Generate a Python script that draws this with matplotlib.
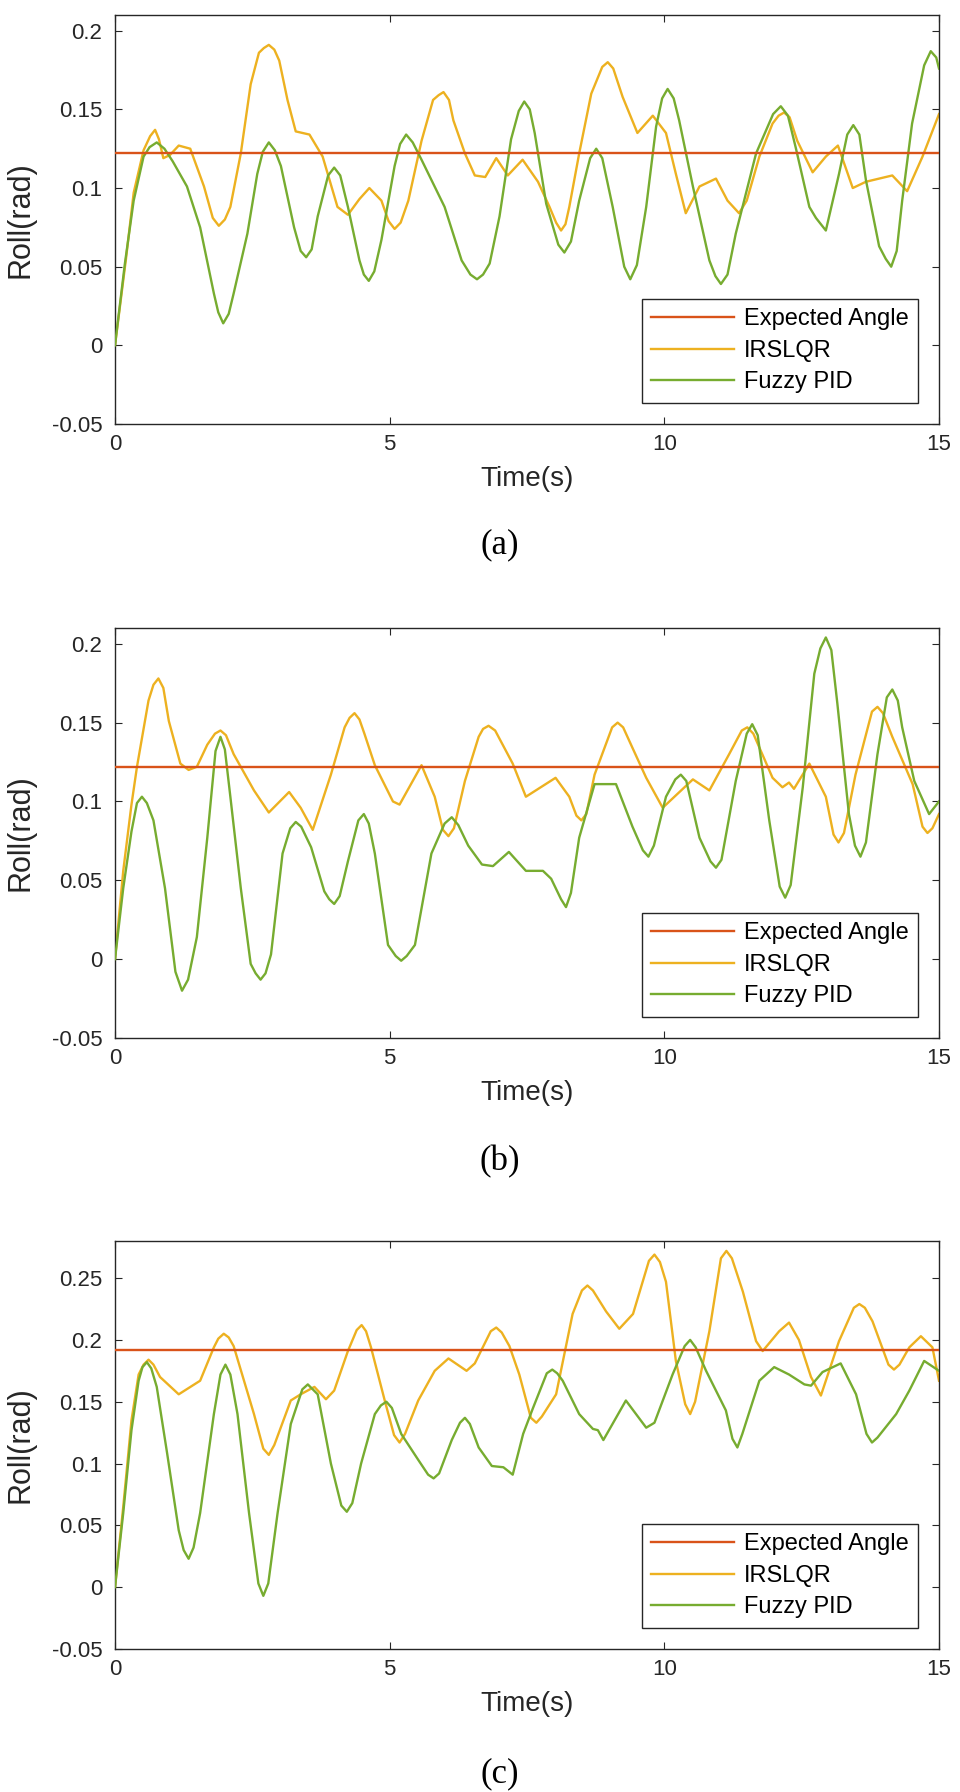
import matplotlib.pyplot as plt

plt.rcParams['font.family'] = ['Liberation Sans', 'DejaVu Sans']

# ---- data ----
expected = [0.122, 0.122, 0.192]
captions = ['(a)', '(b)', '(c)']
x_ticks = [0, 5, 10, 15]
y_ticks_ab = [-0.05, 0, 0.05, 0.1, 0.15, 0.2]
y_labels_ab = ['-0.05', '0', '0.05', '0.1', '0.15', '0.2']
y_ticks_c = [-0.05, 0, 0.05, 0.1, 0.15, 0.2, 0.25]
y_labels_c = ['-0.05', '0', '0.05', '0.1', '0.15', '0.2', '0.25']

# (a)
t_a_irs = [0, 0.2, 0.34, 0.52, 0.64, 0.73, 0.80, 0.88, 1.0, 1.16, 1.37, 1.62, 1.78, 1.89, 2.00,
           2.10, 2.29, 2.47, 2.62, 2.71, 2.80, 2.90, 2.99, 3.14, 3.29, 3.54, 3.78, 4.05, 4.24,
           4.45, 4.63, 4.85, 4.98, 5.09, 5.20, 5.34, 5.58, 5.79, 5.89, 5.98, 6.08, 6.16, 6.37,
           6.55, 6.74, 6.94, 7.15, 7.42, 7.70, 7.91, 8.03, 8.12, 8.20, 8.27, 8.45, 8.67, 8.87,
           8.97, 9.07, 9.24, 9.51, 9.79, 10.03, 10.21, 10.39, 10.64, 10.94, 11.15, 11.36,
           11.50, 11.73, 11.97, 12.08, 12.18, 12.28, 12.42, 12.70, 12.94, 13.16, 13.43, 13.67,
           14.15, 14.42, 14.70, 15.0]
v_a_irs = [0, 0.055, 0.097, 0.124, 0.133, 0.137, 0.131, 0.119, 0.121, 0.127, 0.125, 0.101,
           0.081, 0.076, 0.080, 0.088, 0.122, 0.166, 0.186, 0.189, 0.191, 0.188, 0.181, 0.156,
           0.136, 0.134, 0.120, 0.088, 0.083, 0.093, 0.100, 0.092, 0.079, 0.074, 0.078, 0.092,
           0.130, 0.156, 0.159, 0.161, 0.156, 0.143, 0.122, 0.108, 0.107, 0.119, 0.108, 0.118,
           0.104, 0.088, 0.078, 0.073, 0.077, 0.088, 0.122, 0.160, 0.177, 0.180, 0.176, 0.158,
           0.135, 0.146, 0.135, 0.109, 0.084, 0.101, 0.106, 0.092, 0.084, 0.092, 0.120, 0.141,
           0.146, 0.148, 0.145, 0.130, 0.110, 0.120, 0.127, 0.100, 0.104, 0.108, 0.098, 0.120,
           0.147]
t_a_fuz = [0, 0.18, 0.34, 0.52, 0.63, 0.76, 0.90, 1.05, 1.31, 1.55, 1.80, 1.88, 1.97, 2.07,
           2.16, 2.41, 2.59, 2.69, 2.80, 2.91, 3.02, 3.26, 3.38, 3.48, 3.58, 3.69, 3.88, 3.99,
           4.10, 4.24, 4.45, 4.53, 4.62, 4.72, 4.85, 5.09, 5.19, 5.30, 5.42, 5.58, 6.0, 6.31,
           6.47, 6.59, 6.70, 6.82, 7.0, 7.21, 7.35, 7.45, 7.55, 7.64, 7.85, 8.07, 8.18, 8.30,
           8.45, 8.65, 8.76, 8.87, 9.06, 9.27, 9.38, 9.50, 9.67, 9.85, 9.96, 10.06, 10.17,
           10.27, 10.52, 10.82, 10.93, 11.03, 11.15, 11.30, 11.67, 11.98, 12.12, 12.25, 12.39,
           12.64, 12.76, 12.94, 13.18, 13.33, 13.44, 13.55, 13.67, 13.91, 14.03, 14.13, 14.23,
           14.33, 14.51, 14.73, 14.85, 14.95, 15.0]
v_a_fuz = [0, 0.052, 0.092, 0.120, 0.126, 0.129, 0.125, 0.117, 0.101, 0.075, 0.033, 0.021,
           0.014, 0.020, 0.033, 0.071, 0.109, 0.123, 0.129, 0.124, 0.114, 0.075, 0.060, 0.056,
           0.061, 0.082, 0.108, 0.113, 0.108, 0.088, 0.054, 0.045, 0.041, 0.047, 0.067, 0.114,
           0.128, 0.134, 0.129, 0.118, 0.088, 0.054, 0.045, 0.042, 0.045, 0.052, 0.082, 0.131,
           0.149, 0.155, 0.150, 0.135, 0.090, 0.064, 0.059, 0.066, 0.092, 0.119, 0.125, 0.119,
           0.088, 0.050, 0.042, 0.051, 0.088, 0.139, 0.157, 0.163, 0.157, 0.143, 0.101, 0.054,
           0.044, 0.039, 0.045, 0.071, 0.122, 0.147, 0.152, 0.146, 0.126, 0.088, 0.081, 0.073,
           0.109, 0.134, 0.140, 0.134, 0.105, 0.063, 0.055, 0.050, 0.060, 0.092, 0.141, 0.178,
           0.187, 0.183, 0.176]

# (b)
t_b_irs = [0, 0.15, 0.30, 0.40, 0.61, 0.70, 0.79, 0.88, 0.98, 1.19, 1.34, 1.49, 1.68, 1.82,
           1.92, 2.02, 2.16, 2.53, 2.80, 3.17, 3.38, 3.60, 3.93, 4.18, 4.27, 4.36, 4.45, 4.54,
           4.73, 5.06, 5.18, 5.58, 5.82, 5.97, 6.07, 6.17, 6.37, 6.62, 6.70, 6.80, 6.92, 7.24,
           7.48, 8.02, 8.27, 8.40, 8.49, 8.58, 8.73, 9.05, 9.15, 9.25, 9.42, 9.67, 9.97, 10.52,
           10.82, 11.18, 11.41, 11.51, 11.62, 11.97, 12.15, 12.27, 12.36, 12.64, 12.94, 13.08,
           13.17, 13.27, 13.48, 13.78, 13.88, 13.98, 14.15, 14.52, 14.70, 14.79, 14.88, 15.0]
v_b_irs = [0, 0.056, 0.098, 0.122, 0.164, 0.174, 0.178, 0.172, 0.151, 0.124, 0.120, 0.122,
           0.136, 0.143, 0.145, 0.142, 0.130, 0.107, 0.093, 0.106, 0.096, 0.082, 0.117, 0.147,
           0.153, 0.156, 0.152, 0.143, 0.123, 0.100, 0.098, 0.123, 0.103, 0.082, 0.078, 0.083,
           0.113, 0.141, 0.146, 0.148, 0.145, 0.124, 0.103, 0.115, 0.103, 0.091, 0.088, 0.092,
           0.117, 0.147, 0.150, 0.147, 0.134, 0.115, 0.096, 0.114, 0.107, 0.130, 0.145, 0.147,
           0.143, 0.115, 0.109, 0.112, 0.108, 0.124, 0.103, 0.079, 0.074, 0.080, 0.117, 0.157,
           0.160, 0.156, 0.141, 0.111, 0.084, 0.080, 0.083, 0.092]
t_b_fuz = [0, 0.15, 0.30, 0.40, 0.49, 0.58, 0.70, 0.91, 1.10, 1.22, 1.33, 1.49, 1.68, 1.83,
           1.92, 2.00, 2.10, 2.29, 2.47, 2.56, 2.65, 2.74, 2.84, 3.05, 3.19, 3.29, 3.39, 3.57,
           3.81, 3.90, 3.99, 4.09, 4.24, 4.43, 4.53, 4.62, 4.73, 4.97, 5.11, 5.21, 5.31, 5.46,
           5.76, 6.0, 6.13, 6.25, 6.43, 6.68, 6.88, 7.17, 7.48, 7.79, 7.94, 8.12, 8.21, 8.30,
           8.45, 8.73, 9.12, 9.42, 9.61, 9.71, 9.81, 10.03, 10.20, 10.30, 10.40, 10.64, 10.84,
           10.94, 11.04, 11.30, 11.50, 11.60, 11.70, 11.91, 12.10, 12.20, 12.30, 12.52, 12.73,
           12.84, 12.94, 13.04, 13.15, 13.36, 13.47, 13.57, 13.67, 13.88, 14.05, 14.15, 14.25,
           14.33, 14.55, 14.82, 15.0]
v_b_fuz = [0, 0.045, 0.081, 0.099, 0.103, 0.099, 0.088, 0.045, -0.008, -0.020, -0.013,
           0.014, 0.077, 0.132, 0.141, 0.133, 0.103, 0.045, -0.003, -0.009, -0.013, -0.009,
           0.003, 0.067, 0.083, 0.087, 0.084, 0.071, 0.043, 0.038, 0.035, 0.040, 0.062, 0.088,
           0.092, 0.086, 0.067, 0.009, 0.002, -0.001, 0.002, 0.009, 0.067, 0.086, 0.090, 0.085,
           0.072, 0.060, 0.059, 0.068, 0.056, 0.056, 0.051, 0.038, 0.033, 0.042, 0.077, 0.111,
           0.111, 0.084, 0.069, 0.065, 0.072, 0.103, 0.114, 0.117, 0.113, 0.077, 0.062, 0.058,
           0.063, 0.113, 0.143, 0.149, 0.142, 0.088, 0.046, 0.039, 0.047, 0.109, 0.181, 0.197,
           0.204, 0.196, 0.162, 0.092, 0.072, 0.065, 0.074, 0.130, 0.166, 0.171, 0.164, 0.147,
           0.113, 0.092, 0.100]

# (c)
t_c_irs = [0, 0.15, 0.30, 0.43, 0.52, 0.61, 0.70, 0.82, 1.16, 1.55, 1.80, 1.88, 1.98, 2.07,
           2.16, 2.53, 2.70, 2.80, 2.90, 3.20, 3.38, 3.63, 3.84, 3.99, 4.24, 4.40, 4.49, 4.57,
           4.66, 4.91, 5.08, 5.18, 5.28, 5.52, 5.82, 6.07, 6.40, 6.55, 6.84, 6.94, 7.04, 7.18,
           7.36, 7.57, 7.67, 7.77, 8.03, 8.33, 8.50, 8.60, 8.70, 8.94, 9.18, 9.43, 9.72, 9.82,
           9.92, 10.03, 10.21, 10.38, 10.47, 10.56, 10.82, 11.03, 11.13, 11.23, 11.43, 11.67,
           11.79, 12.09, 12.27, 12.45, 12.67, 12.85, 13.18, 13.45, 13.55, 13.65, 13.79, 14.08,
           14.18, 14.28, 14.46, 14.67, 14.88, 15.0]
v_c_irs = [0, 0.065, 0.135, 0.172, 0.180, 0.184, 0.180, 0.170, 0.156, 0.167, 0.194, 0.201,
           0.205, 0.202, 0.195, 0.140, 0.112, 0.107, 0.115, 0.151, 0.156, 0.162, 0.152, 0.159,
           0.191, 0.208, 0.212, 0.207, 0.194, 0.151, 0.123, 0.117, 0.124, 0.151, 0.175, 0.185,
           0.175, 0.181, 0.207, 0.210, 0.206, 0.195, 0.172, 0.137, 0.133, 0.138, 0.156, 0.221,
           0.240, 0.244, 0.240, 0.223, 0.209, 0.221, 0.264, 0.269, 0.263, 0.247, 0.183, 0.148,
           0.140, 0.150, 0.207, 0.266, 0.272, 0.266, 0.239, 0.199, 0.191, 0.207, 0.214, 0.200,
           0.170, 0.155, 0.199, 0.226, 0.229, 0.226, 0.215, 0.180, 0.176, 0.180, 0.194, 0.203,
           0.194, 0.167]
t_c_fuz = [0, 0.15, 0.30, 0.43, 0.50, 0.58, 0.66, 0.76, 0.95, 1.16, 1.25, 1.34, 1.43, 1.55,
           1.80, 1.92, 2.01, 2.10, 2.23, 2.44, 2.61, 2.70, 2.79, 2.96, 3.20, 3.41, 3.51, 3.69,
           3.93, 4.12, 4.22, 4.32, 4.48, 4.73, 4.84, 4.94, 5.04, 5.21, 5.52, 5.70, 5.80, 5.90,
           6.13, 6.28, 6.37, 6.46, 6.62, 6.86, 7.07, 7.24, 7.43, 7.61, 7.86, 7.96, 8.05, 8.15,
           8.45, 8.70, 8.79, 8.89, 9.30, 9.67, 9.82, 10.15, 10.37, 10.47, 10.57, 10.76, 11.12,
           11.24, 11.33, 11.42, 11.73, 12.00, 12.27, 12.55, 12.67, 12.88, 13.21, 13.49, 13.68,
           13.78, 13.88, 14.22, 14.46, 14.73, 15.0]
v_c_fuz = [0, 0.060, 0.127, 0.167, 0.178, 0.182, 0.177, 0.162, 0.108, 0.046, 0.030, 0.023,
           0.032, 0.060, 0.140, 0.172, 0.180, 0.172, 0.140, 0.060, 0.003, -0.007, 0.003, 0.060,
           0.132, 0.160, 0.164, 0.156, 0.100, 0.066, 0.061, 0.068, 0.100, 0.140, 0.147, 0.150,
           0.145, 0.124, 0.103, 0.091, 0.088, 0.092, 0.119, 0.133, 0.137, 0.132, 0.113, 0.098,
           0.097, 0.091, 0.124, 0.145, 0.173, 0.176, 0.173, 0.167, 0.140, 0.128, 0.127, 0.119,
           0.151, 0.129, 0.133, 0.172, 0.195, 0.200, 0.194, 0.175, 0.143, 0.120, 0.113, 0.124,
           0.167, 0.178, 0.172, 0.164, 0.163, 0.174, 0.181, 0.156, 0.124, 0.117, 0.121, 0.140,
           0.159, 0.183, 0.175]

panels = [
    (t_a_irs, v_a_irs, t_a_fuz, v_a_fuz, y_ticks_ab, y_labels_ab, 0.21),
    (t_b_irs, v_b_irs, t_b_fuz, v_b_fuz, y_ticks_ab, y_labels_ab, 0.21),
    (t_c_irs, v_c_irs, t_c_fuz, v_c_fuz, y_ticks_c, y_labels_c, 0.28),
]

# axes boxes in pixels of the 960x1792 figure: (top, bottom)
W, H = 960, 1792
left_px, right_px = 115, 939
boxes = [(15, 424), (628, 1038), (1241, 1649)]
caption_y = [545, 1162, 1774]

c_ref = '#D95319'
c_irs = '#EDB120'
c_fuz = '#77AC30'
dark = '#262626'

fig = plt.figure(figsize=(W / 100, H / 100), dpi=100)

for i, (ti, vi, tf, vf, yt, yl, ytop) in enumerate(panels):
    top, bot = boxes[i]
    ax = fig.add_axes([left_px / W, 1 - bot / H, (right_px - left_px) / W, (bot - top) / H])
    ax.plot([0, 15], [expected[i], expected[i]], color=c_ref, lw=1.7, label='Expected Angle', zorder=4)
    ax.plot(ti, vi, color=c_irs, lw=1.7, label='IRSLQR', zorder=2)
    ax.plot(tf, vf, color=c_fuz, lw=1.7, label='Fuzzy PID', zorder=3)

    ax.set_xlim(0, 15)
    ax.set_ylim(-0.05, ytop)
    ax.set_xticks(x_ticks)
    ax.set_xticklabels([str(x) for x in x_ticks])
    ax.set_yticks(yt)
    ax.set_yticklabels(yl)
    ax.tick_params(direction='in', length=5, width=0.8, top=True, right=True,
                   labelsize=16, colors=dark)
    ax.tick_params(axis='y', pad=9)
    ax.tick_params(axis='x', pad=7)
    for s in ax.spines.values():
        s.set_color(dark)
        s.set_linewidth(1.0)

    ax.set_xlabel('Time(s)', fontsize=20, color=dark)
    ax.set_ylabel('Roll(rad)', fontsize=22, color=dark)
    ax.xaxis.set_label_coords(0.5, -0.103)
    ax.yaxis.set_label_coords(-0.096, 0.5)

    leg = ax.legend(loc='lower right', fontsize=17, frameon=True, fancybox=False,
                    edgecolor=dark, framealpha=1, handlelength=3.5, handletextpad=0.4,
                    borderpad=0.4, labelspacing=0.4, borderaxespad=0.9)
    leg.get_frame().set_linewidth(1.0)

    fig.text(500 / W, 1 - caption_y[i] / H, captions[i], ha='center', va='center',
             fontsize=25, family=['Liberation Serif', 'DejaVu Serif'], color='black')

fig.savefig('out.png', dpi=100)
